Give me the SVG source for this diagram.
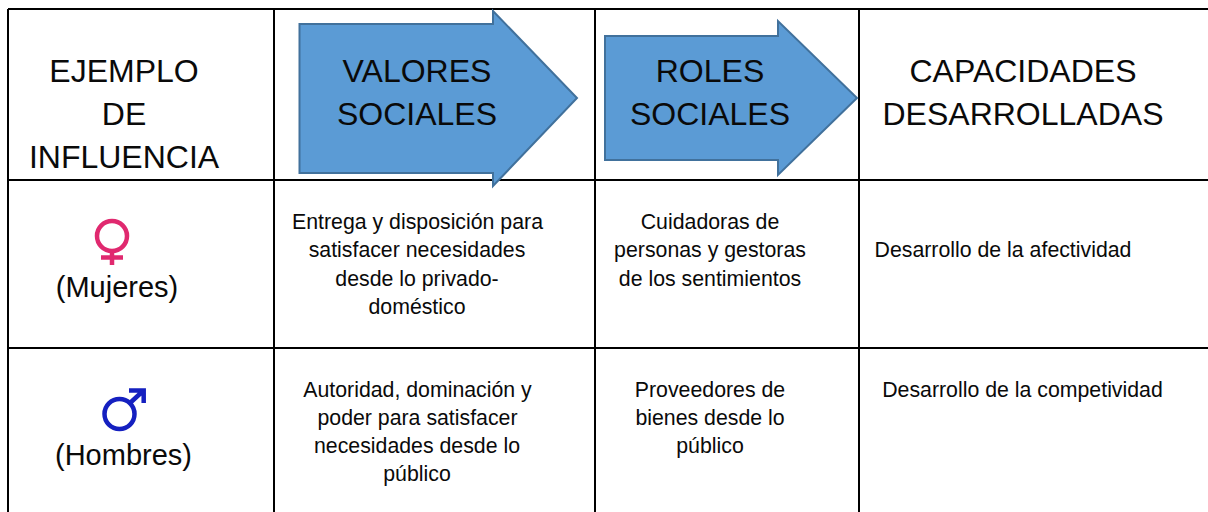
<svg xmlns="http://www.w3.org/2000/svg" width="1208" height="512" viewBox="0 0 1208 512">
<style>
text{font-family:"Liberation Sans",Arial,sans-serif;fill:#0a0a0a;text-anchor:middle}
.h{font-size:32px}
.l{font-size:29px}
.b{font-size:21.3px}
.g{stroke:#000;stroke-width:2;fill:none}
.a{fill:#5b9bd5;stroke:#41719c;stroke-width:2}
.f{fill:none;stroke:#e0296f;stroke-width:4.5}
.m{fill:none;stroke:#1520c0;stroke-width:4.5}
</style>
<rect width="1208" height="512" fill="#fff"/>
<g id="grid" class="g">
<path d="M8 9H1208M8 180H1208M8 348H1208M8 9V512M274 9V512M595 9V512M859 9V512"/>
</g>
<g id="connectors"/>
<g id="header-ejemplo">
<text class="h" x="124" y="82">EJEMPLO</text>
<text class="h" x="124" y="125">DE</text>
<text class="h" x="124" y="168">INFLUENCIA</text>
</g>
<g id="arrow-valores">
<path class="a" d="M299.500 24H493V11L577 98L493 186V173H299.500Z"/>
<text class="h" x="417" y="82">VALORES</text>
<text class="h" x="417" y="125">SOCIALES</text>
</g>
<g id="arrow-roles">
<path class="a" d="M605 36H778V21L857 98L778 175V160H605Z"/>
<text class="h" x="710" y="82">ROLES</text>
<text class="h" x="710" y="125">SOCIALES</text>
</g>
<g id="header-capacidades">
<text class="h" x="1023" y="82">CAPACIDADES</text>
<text class="h" x="1023" y="125">DESARROLLADAS</text>
</g>
<g id="mujeres">
<circle class="f" cx="112" cy="236" r="15"/>
<path class="f" d="M112 252V265M101 257.500H123"/>
<text class="l" x="117" y="297">(Mujeres)</text>
</g>
<g id="hombres">
<circle class="m" cx="119.500" cy="414" r="15"/>
<path class="m" d="M130 403L143 391M129 390.500H143.700V403"/>
<text class="l" x="123.500" y="465">(Hombres)</text>
</g>
<g id="valores-mujeres">
<text class="b" x="417.500" y="228.500">Entrega y disposición para</text>
<text class="b" x="417" y="257">satisfacer necesidades</text>
<text class="b" x="417" y="285.500">desde lo privado-</text>
<text class="b" x="417" y="314">doméstico</text>
</g>
<g id="roles-mujeres">
<text class="b" x="710" y="228.500">Cuidadoras de</text>
<text class="b" x="710" y="257">personas y gestoras</text>
<text class="b" x="710" y="285.500">de los sentimientos</text>
</g>
<g id="capacidad-mujeres">
<text class="b" x="1003" y="257">Desarrollo de la afectividad</text>
</g>
<g id="valores-hombres">
<text class="b" x="417.500" y="396.500">Autoridad, dominación y</text>
<text class="b" x="417.500" y="425">poder para satisfacer</text>
<text class="b" x="417" y="453">necesidades desde lo</text>
<text class="b" x="417" y="481">público</text>
</g>
<g id="roles-hombres">
<text class="b" x="710" y="396.500">Proveedores de</text>
<text class="b" x="710" y="425">bienes desde lo</text>
<text class="b" x="710" y="453">público</text>
</g>
<g id="capacidad-hombres">
<text class="b" x="1022.500" y="397">Desarrollo de la competividad</text>
</g>
</svg>
